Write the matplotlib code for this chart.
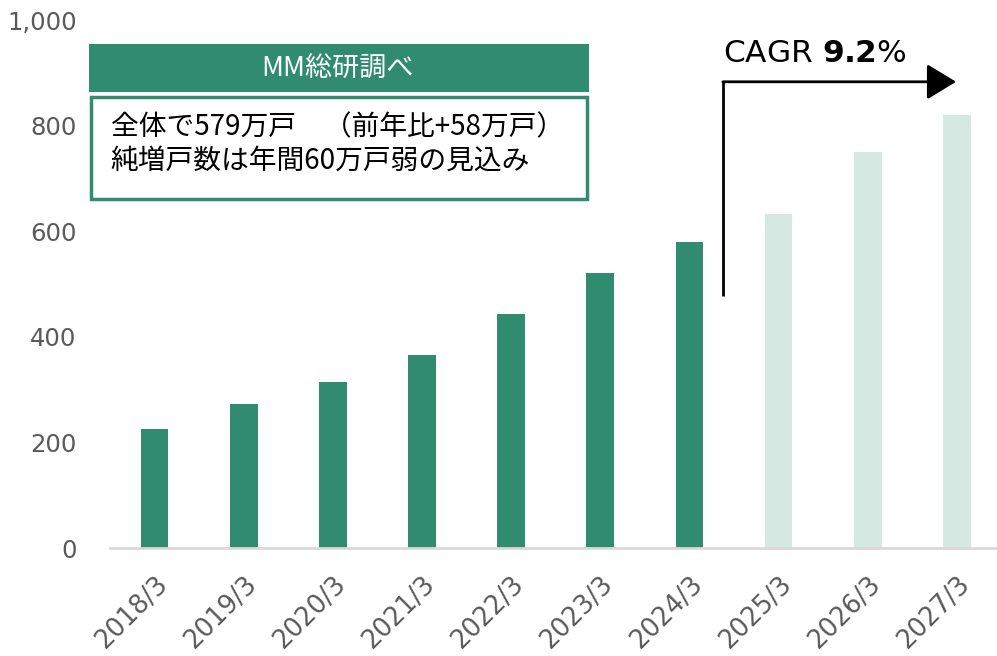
import numpy as np
import matplotlib
matplotlib.use('Agg')
import matplotlib.pyplot as plt
from matplotlib.patches import Rectangle

# データ
years = ['2018/3', '2019/3', '2020/3', '2021/3', '2022/3', '2023/3', '2024/3', '2025/3', '2026/3', '2027/3']
actual = [225, 273, 314, 365, 443, 521, 579]
forecast = [633, 750, 820]
yticks = [0, 200, 400, 600, 800, 1000]

dark = '#308B6F'
light = '#D5E8E2'
grey = '#595959'

plt.rcParams['font.family'] = ['DejaVu Sans', 'Noto Sans CJK JP']

fig = plt.figure(figsize=(9.97, 6.56), dpi=100)
ax = fig.add_axes([0.1103, 0.1646, 0.8897, 0.8049])

x = np.arange(len(years))
n = len(actual)
ax.bar(x[:n], actual, width=0.31, color=dark)
ax.bar(x[n:], forecast, width=0.31, color=light)

ax.set_xlim(-0.5, 9.45)
ax.set_ylim(0, 1000)
ax.set_yticks(yticks)
ax.set_yticklabels(['{:,}'.format(v) for v in yticks], fontsize=17.5, color=grey)
ax.set_xticks(x)
ax.set_xticklabels(years, rotation=45, ha='right', rotation_mode='anchor', fontsize=18.5, color=grey)
ax.tick_params(axis='both', length=0)
ax.tick_params(axis='y', pad=24)
ax.tick_params(axis='x', pad=17)
for s in ['top', 'right', 'left']:
    ax.spines[s].set_visible(False)
ax.spines['bottom'].set_color('#D9D9D9')
ax.spines['bottom'].set_linewidth(2)

# CAGR矢印
ax.plot([6.38, 6.38], [477, 885], color='black', lw=2, solid_capstyle='butt')
ax.annotate('', xy=(8.99, 883), xytext=(6.375, 883),
            arrowprops=dict(arrowstyle='-|>,head_length=1.8,head_width=1.1', color='black', lw=2,
                            shrinkA=0, shrinkB=0))
ax.text(6.38, 936, r'CAGR $\mathbf{9.2}$%', fontsize=22.5, ha='left', va='center')

# 注記ボックス
fig.patches.append(Rectangle((0.0893, 0.8598), 0.5015, 0.0732, transform=fig.transFigure,
                             facecolor=dark, edgecolor='none'))
fig.text(0.339, 0.8964, 'MM総研調べ', color='white', fontsize=19.5, ha='center', va='center',
         family=['Noto Sans CJK JP'])
fig.patches.append(Rectangle((0.0913, 0.697), 0.4975, 0.155, transform=fig.transFigure,
                             facecolor='white', edgecolor=dark, lw=2.5))
fig.text(0.111, 0.806, '全体で579万戸　（前年比+58万戸）', fontsize=20, ha='left', va='center',
         family=['Noto Sans CJK JP'])
fig.text(0.111, 0.755, '純増戸数は年間60万戸弱の見込み', fontsize=20, ha='left', va='center',
         family=['Noto Sans CJK JP'])

fig.savefig('out.png', dpi=100)
